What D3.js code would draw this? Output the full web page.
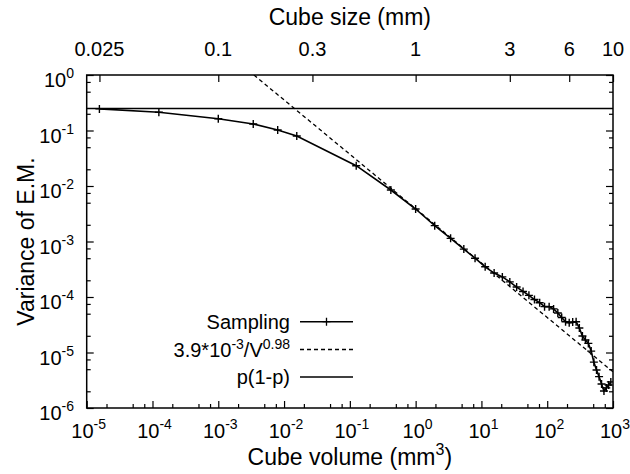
<!DOCTYPE html>
<html><head><meta charset="utf-8">
<script src="https://cdn.jsdelivr.net/npm/d3@7"></script>
<style>
body{margin:0;background:#fff}
text{font-family:"Liberation Sans",Arial,Helvetica,sans-serif;fill:#000}
</style>
</head><body>
<svg id="chart" width="630" height="474"></svg>
<script>
// ---- data ----
const volumeExps = [-5,-4,-3,-2,-1,0,1,2,3];
const varianceExps = [-6,-5,-4,-3,-2,-1,0];
const minorMultipliers = [2,5,7.5];
const sizeTicks = [0.025,0.1,0.3,1,3,6,10];
const sizeLabels = ["0.025","0.1","0.3","1","3","6","10"];

const sampleVolume = [1.56e-5,1.25e-4,1e-3,3.4e-3,8e-3,0.0156,0.125,0.42,1.0,1.95,3.4,5.4,8,11.4,15.6,20.8,27,34.3,42.9,52.7,64,76.8,91.1,107,125,145,166,190,216,244,275,308,343,381,422,466,512,562,614,670,729,791,857,927];
const sampleVariance = [0.245,0.213,0.163,0.131,0.102,0.0796,0.0232,0.00847,0.00385,0.00193,0.00114,7.3e-4,5.0e-4,3.5e-4,2.7e-4,2.3e-4,1.87e-4,1.51e-4,1.26e-4,1.07e-4,9.0e-5,7.9e-5,6.7e-5,6.7e-5,6.1e-5,5.15e-5,4.27e-5,3.59e-5,3.44e-5,3.55e-5,3.59e-5,2.76e-5,1.98e-5,1.68e-5,1.46e-5,1.06e-5,6.7e-6,4.84e-6,3.67e-6,2.7e-6,2.02e-6,2.3e-6,2.6e-6,2.95e-6];

const fitVolume = [0.00348, 1000];
const fitVariance = [1, 4.48e-6];
const pVolume = [1e-5, 1000];
const pVariance = [0.25, 0.25];

// ---- layout ----
const L = 86.7, R = 613, T = 75, B = 408;
const svg = d3.select("#chart");

const x = d3.scaleLog().domain([1e-5, 1e3]).range([L, R]);
const y = d3.scaleLog().domain([1e-6, 1]).range([B, T]);
const xTop = d3.scaleLog().domain([Math.cbrt(1e-5), 10]).range([L, R]);

const majorX = volumeExps.map(e => Math.pow(10, e));
const majorY = varianceExps.map(e => Math.pow(10, e));
const minorX = [], minorY = [];
volumeExps.slice(0, -1).forEach(e => minorMultipliers.forEach(m => minorX.push(m * Math.pow(10, e))));
varianceExps.slice(0, -1).forEach(e => minorMultipliers.forEach(m => minorY.push(m * Math.pow(10, e))));

const axisStyle = g => {
  g.select(".domain").remove();
  g.selectAll(".tick line").attr("stroke", "#000").attr("stroke-width", 1.2);
  g.selectAll(".tick text").remove();
};
const MAJ = 7, MIN = 4;

svg.append("g").attr("transform", `translate(0,${B})`)
  .call(d3.axisBottom(x).tickValues(majorX).tickSize(-MAJ)).call(axisStyle);
svg.append("g").attr("transform", `translate(0,${B})`)
  .call(d3.axisBottom(x).tickValues(minorX).tickSize(-MIN)).call(axisStyle);
svg.append("g").attr("transform", `translate(${L},0)`)
  .call(d3.axisLeft(y).tickValues(majorY).tickSize(-MAJ)).call(axisStyle);
svg.append("g").attr("transform", `translate(${L},0)`)
  .call(d3.axisLeft(y).tickValues(minorY).tickSize(-MIN)).call(axisStyle);
svg.append("g").attr("transform", `translate(${R},0)`)
  .call(d3.axisRight(y).tickValues(majorY).tickSize(-MAJ)).call(axisStyle);
svg.append("g").attr("transform", `translate(${R},0)`)
  .call(d3.axisRight(y).tickValues(minorY).tickSize(-MIN)).call(axisStyle);
svg.append("g").attr("transform", `translate(0,${T})`)
  .call(d3.axisTop(xTop).tickValues(sizeTicks).tickSize(-MAJ)).call(axisStyle);

svg.append("rect").attr("x", L).attr("y", T).attr("width", R - L).attr("height", B - T)
  .attr("fill", "none").attr("stroke", "#000").attr("stroke-width", 1.5);

const FS = 20, SUP = 14;
volumeExps.forEach(e => {
  const t = svg.append("text").attr("x", x(Math.pow(10, e)) + 2).attr("y", 438)
    .attr("text-anchor", "middle").attr("font-size", FS);
  t.append("tspan").text("10");
  t.append("tspan").attr("dy", -9).attr("font-size", SUP).text(e);
});
varianceExps.forEach(e => {
  const t = svg.append("text").attr("x", 74).attr("y", y(Math.pow(10, e)) + 12)
    .attr("text-anchor", "end").attr("font-size", FS);
  t.append("tspan").text("10");
  t.append("tspan").attr("dy", -9).attr("font-size", SUP).text(e);
});
sizeTicks.forEach((s, i) => {
  svg.append("text").attr("x", xTop(s)).attr("y", 56).attr("text-anchor", "middle")
    .attr("font-size", FS).text(sizeLabels[i]);
});

const TF = 23;
const xt = svg.append("text").attr("x", (L + R) / 2).attr("y", 465).attr("text-anchor", "middle").attr("font-size", TF);
xt.append("tspan").text("Cube volume (mm");
xt.append("tspan").attr("dy", -10).attr("font-size", 16).text("3");
xt.append("tspan").attr("dy", 10).text(")");
svg.append("text").attr("x", (L + R) / 2).attr("y", 25).attr("text-anchor", "middle").attr("font-size", TF).text("Cube size (mm)");
svg.append("text").attr("transform", `translate(34,${(T + B) / 2}) rotate(-90)`).attr("text-anchor", "middle")
  .attr("font-size", TF).text("Variance of E.M.");

svg.append("clipPath").attr("id", "clip").append("rect").attr("x", L).attr("y", T).attr("width", R - L).attr("height", B - T);
const plot = svg.append("g").attr("clip-path", "url(#clip)");
const line = d3.line().x(d => x(d[0])).y(d => y(d[1]));

plot.append("path").datum(pVolume.map((v, i) => [v, pVariance[i]]))
  .attr("d", line).attr("fill", "none").attr("stroke", "#000").attr("stroke-width", 1.5);
plot.append("path").datum(fitVolume.map((v, i) => [v, fitVariance[i]]))
  .attr("d", line).attr("fill", "none").attr("stroke", "#000").attr("stroke-width", 1.3).attr("stroke-dasharray", "4,3");
const sample = sampleVolume.map((v, i) => [v, sampleVariance[i]]);
plot.append("path").datum(sample).attr("d", line).attr("fill", "none").attr("stroke", "#000").attr("stroke-width", 1.6);
const ms = 4;
plot.selectAll("path.mk").data(sample).enter().append("path").attr("class", "mk")
  .attr("d", d => `M${x(d[0]) - ms},${y(d[1])}h${2 * ms}M${x(d[0])},${y(d[1]) - ms}v${2 * ms}`)
  .attr("stroke", "#000").attr("stroke-width", 1.4);

const legX1 = 300, legX2 = 353, legTextX = 290;
const legY = [321.7, 349.5, 377];
const lg = svg.append("g");
lg.append("line").attr("x1", legX1).attr("x2", legX2).attr("y1", legY[0]).attr("y2", legY[0]).attr("stroke", "#000").attr("stroke-width", 1.6);
lg.append("path").attr("d", `M${(legX1 + legX2) / 2 - ms},${legY[0]}h${2 * ms}M${(legX1 + legX2) / 2},${legY[0] - ms}v${2 * ms}`).attr("stroke", "#000").attr("stroke-width", 1.3);
lg.append("line").attr("x1", legX1).attr("x2", legX2).attr("y1", legY[1]).attr("y2", legY[1]).attr("stroke", "#000").attr("stroke-width", 1.3).attr("stroke-dasharray", "4,3");
lg.append("line").attr("x1", legX1).attr("x2", legX2).attr("y1", legY[2]).attr("y2", legY[2]).attr("stroke", "#000").attr("stroke-width", 1.5);
lg.append("text").attr("x", legTextX).attr("y", legY[0] + 7).attr("text-anchor", "end").attr("font-size", FS).text("Sampling");
const ft = lg.append("text").attr("x", legTextX).attr("y", legY[1] + 7).attr("text-anchor", "end").attr("font-size", FS);
ft.append("tspan").text("3.9*10");
ft.append("tspan").attr("dy", -8).attr("font-size", SUP).text("-3");
ft.append("tspan").attr("dy", 8).text("/V");
ft.append("tspan").attr("dy", -8).attr("font-size", SUP).text("0.98");
lg.append("text").attr("x", legTextX).attr("y", legY[2] + 7).attr("text-anchor", "end").attr("font-size", FS).text("p(1-p)");
</script>
</body></html>
